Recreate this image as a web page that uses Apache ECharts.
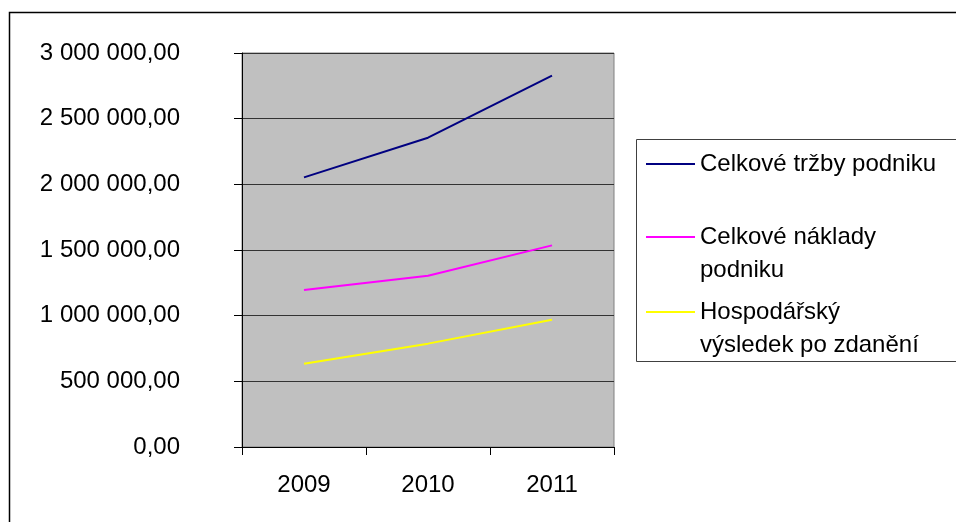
<!DOCTYPE html>
<html lang="cs">
<head>
  <meta charset="UTF-8">
  <title>Tržby, náklady a výsledek</title>
  <script src="https://cdn.jsdelivr.net/npm/echarts@6/dist/echarts.min.js"></script>
  <style>
    html, body { margin: 0; padding: 0; background: #fff; }
    #chart { width: 956px; height: 522px; }
  </style>
</head>
<body>
<div id="chart"></div>
<script>
  // data
  var years = ['2009', '2010', '2011'];
  var trzby = [2053000, 2355000, 2827000];
  var naklady = [1195000, 1304000, 1535000];
  var vysledek = [634000, 787000, 969000];
  var names = ['Celkové tržby podniku', 'Celkové náklady podniku', 'Hospodářský výsledek po zdanění'];
  var legendLabels = ['Celkové tržby podniku', 'Celkové náklady\npodniku', 'Hospodářský\nvýsledek po zdanění'];
  var colors = ['#000080', '#ff00ff', '#ffff00'];

  var font = '"Liberation Sans", Arial, sans-serif';

  // 3 000 000,00
  function fmt(v) {
    var s = String(Math.round(v));
    s = s.replace(/\B(?=(\d{3})+(?!\d))/g, ' ');
    return s + ',00';
  }

  var chart = echarts.init(document.getElementById('chart'));

  var legendBase = {
    orient: 'vertical',
    left: 646,
    icon: 'rect',
    itemWidth: 49,
    itemHeight: 2,
    padding: 0,
    selectedMode: false,
    textStyle: { fontFamily: font, fontSize: 24, color: '#000', lineHeight: 33 }
  };

  // empty first line keeps the icon level with the first text line
  function legendAt(i, top) {
    return Object.assign({}, legendBase, {
      data: [names[i]],
      top: top,
      formatter: function () {
        var t = legendLabels[i];
        return t.indexOf('\n') >= 0 ? ' \n' + t : t;
      }
    });
  }

  chart.setOption({
    animation: false,
    backgroundColor: '#fff',
    textStyle: { fontFamily: font },
    graphic: [
      { type: 'rect', z: -1, shape: { x: 9.5, y: 12.5, width: 1000, height: 600 },
        style: { fill: 'none', stroke: '#000', lineWidth: 1.5 } },
      { type: 'rect', z: -1, shape: { x: 636.5, y: 139.5, width: 330, height: 222 },
        style: { fill: 'none', stroke: '#404040', lineWidth: 1 } }
    ],
    legend: [
      legendAt(0, 147.5),
      legendAt(1, 187.5),
      legendAt(2, 262.5)
    ],
    grid: {
      left: 242, right: 342, top: 53, bottom: 75,
      show: true, backgroundColor: '#c0c0c0', borderColor: '#808080', borderWidth: 1
    },
    xAxis: {
      type: 'category',
      data: years,
      boundaryGap: true,
      axisLine: { lineStyle: { color: '#000', width: 1 } },
      axisTick: { show: true, length: 8, lineStyle: { color: '#000' } },
      axisLabel: { color: '#000', fontSize: 24, margin: 26, fontFamily: font },
      splitLine: { show: false }
    },
    yAxis: {
      type: 'value',
      min: 0,
      max: 3000000,
      interval: 500000,
      axisLine: { show: true, lineStyle: { color: '#000', width: 1 } },
      axisTick: { show: true, length: 8, lineStyle: { color: '#000' } },
      axisLabel: { color: '#000', fontSize: 24, margin: 62, fontFamily: font, formatter: fmt },
      splitLine: { show: true, lineStyle: { color: '#333', width: 1 } }
    },
    series: [
      { name: names[0], type: 'line', data: trzby, symbol: 'none', color: colors[0], lineStyle: { width: 2, color: colors[0] } },
      { name: names[1], type: 'line', data: naklady, symbol: 'none', color: colors[1], lineStyle: { width: 2, color: colors[1] } },
      { name: names[2], type: 'line', data: vysledek, symbol: 'none', color: colors[2], lineStyle: { width: 2, color: colors[2] } }
    ]
  });
</script>
</body>
</html>
